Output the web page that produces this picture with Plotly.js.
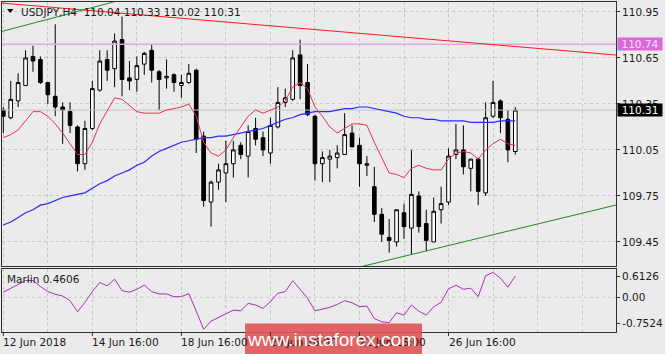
<!DOCTYPE html>
<html><head><meta charset="utf-8">
<script src="https://cdn.plot.ly/plotly-3.0.1.min.js"></script>
<style>html,body{margin:0;padding:0;background:#ebebeb;}#chart{width:665px;height:354px;}</style>
</head><body><div id="chart"></div>
<script>
const symbol = 'USDJPY,H4';
const openP  = [110.31,110.26,110.37,110.47,110.66,110.64,110.49,110.40,110.33,110.30,110.20,109.96,110.19,110.44,110.64,110.58,110.77,110.52,110.51,110.61,110.70,110.56,110.52,110.54,110.47,110.49,110.57,110.14,109.71,109.84,109.90,109.96,110.08,110.01,110.19,110.13,110.03,110.20,110.36,110.38,110.67,110.49,110.27,109.96,109.99,110.00,110.02,110.16,110.08,109.95,109.81,109.63,109.48,109.45,109.64,109.54,109.75,109.57,109.45,109.66,109.71,110.02,110.05,109.93,109.99,109.77,110.27,110.37,110.25,110.04];
const highP  = [110.33,110.50,110.55,110.70,110.73,110.66,110.49,110.87,110.36,110.36,110.21,110.24,110.50,110.70,110.70,110.81,110.92,110.63,110.66,110.69,110.74,110.57,110.64,110.55,110.54,110.61,110.58,110.17,109.85,109.96,110.11,110.11,110.10,110.21,110.26,110.17,110.26,110.46,110.45,110.70,110.77,110.61,110.28,110.04,110.05,110.08,110.29,110.21,110.13,110.01,109.94,109.67,109.60,109.66,109.70,110.05,109.78,109.66,109.74,109.81,110.06,110.22,110.21,109.99,110.00,110.36,110.50,110.38,110.31,110.33];
const lowP   = [110.16,110.25,110.33,110.47,110.56,110.48,110.35,110.27,110.09,110.16,109.91,109.92,110.18,110.43,110.50,110.46,110.40,110.44,110.43,110.54,110.49,110.31,110.45,110.43,110.39,110.48,110.03,109.68,109.55,109.79,109.71,109.87,109.99,109.87,110.08,110.01,109.96,110.19,110.33,110.37,110.38,110.27,109.85,109.84,109.84,109.93,110.02,110.07,109.81,109.88,109.58,109.45,109.38,109.42,109.47,109.37,109.51,109.39,109.45,109.57,109.69,109.99,109.89,109.78,109.69,109.75,110.26,110.16,109.97,110.02];
const closeP = [110.27,110.38,110.49,110.65,110.63,110.49,110.41,110.33,110.31,110.21,109.96,110.19,110.45,110.63,110.57,110.76,110.51,110.50,110.60,110.68,110.57,110.51,110.53,110.49,110.49,110.55,110.12,109.72,109.84,109.92,109.96,110.05,110.02,110.17,110.12,110.05,110.21,110.36,110.39,110.65,110.47,110.28,109.96,110.00,110.01,110.03,110.15,110.07,109.96,109.96,109.63,109.50,109.46,109.66,109.55,109.76,109.55,109.46,109.65,109.70,110.01,110.05,109.94,109.99,109.78,110.26,110.36,110.26,110.05,110.31];
const maFast = [110.13,110.15,110.18,110.24,110.30,110.30,110.27,110.22,110.16,110.09,110.02,110.02,110.10,110.22,110.31,110.39,110.38,110.34,110.30,110.29,110.29,110.29,110.31,110.32,110.33,110.35,110.27,110.10,110.03,110.01,110.05,110.13,110.20,110.27,110.31,110.29,110.31,110.33,110.37,110.46,110.49,110.45,110.33,110.27,110.20,110.16,110.19,110.22,110.22,110.21,110.10,110.00,109.90,109.89,109.87,109.93,109.95,109.93,109.92,109.92,109.99,110.03,110.04,110.03,109.99,110.05,110.09,110.12,110.09,110.08];
const maSlow = [109.56,109.58,109.61,109.64,109.66,109.69,109.70,109.72,109.74,109.75,109.76,109.77,109.80,109.83,109.85,109.88,109.90,109.92,109.95,109.97,110.01,110.04,110.06,110.08,110.10,110.11,110.12,110.13,110.13,110.14,110.14,110.15,110.16,110.17,110.18,110.19,110.21,110.23,110.25,110.26,110.28,110.29,110.30,110.30,110.30,110.31,110.32,110.32,110.33,110.33,110.32,110.31,110.30,110.29,110.27,110.26,110.26,110.25,110.25,110.24,110.24,110.24,110.24,110.23,110.23,110.23,110.23,110.24,110.24,110.24];
const marlin = [0.109,0.189,0.269,0.364,0.364,0.233,0.123,0.065,0.028,-0.074,-0.314,-0.110,0.123,0.320,0.247,0.393,0.145,0.109,0.174,0.262,0.123,0.072,0.072,0.014,0.014,0.080,-0.300,-0.693,-0.518,-0.438,-0.351,-0.278,-0.292,-0.132,-0.168,-0.241,-0.095,0.087,0.123,0.357,0.174,-0.023,-0.292,-0.249,-0.219,-0.154,-0.074,-0.117,-0.205,-0.190,-0.460,-0.533,-0.548,-0.336,-0.387,-0.168,-0.300,-0.387,-0.205,-0.110,0.182,0.262,0.174,0.196,0.014,0.466,0.539,0.415,0.218,0.4606];
const marlinMax = 0.6126, marlinMin = -0.7524;
const priceTicks = [109.45, 109.75, 110.05, 110.35, 110.65, 110.95];
const xTickIdx = [0, 12, 24, 36, 48, 60];
const xTickText = ['12 Jun 2018','14 Jun 16:00','18 Jun 16:00','20 Jun 16:00','22 Jun 16:00','26 Jun 16:00'];
const levelLine = 110.74;
const trendRedX = [-0.45, 82.6],  trendRedY = [111.009, 110.669];
const trendGrnTopX = [-0.2, 16],  trendGrnTopY = [110.823, 111.030];
const trendGrnBotX = [48.5, 82.6], trendGrnBotY = [109.292, 109.691];

const W = 665, H = 354;
const px = v => v / W, py = v => 1 - v / H;
const idx = openP.map((_, i) => i);
const xr = [-0.175, 82.57];
const last = closeP.length - 1;
const gridC = '#c6c6c6', lineC = '#303030';
const fnt = 'DejaVu Sans';

const traces = [
  {type:'scatter', mode:'lines', x:xr, y:[levelLine, levelLine], line:{color:'#e3a6e3', width:1.5}, hoverinfo:'skip'},
  {type:'scatter', mode:'lines', x:xr, y:[closeP[last], closeP[last]], line:{color:'#c4c4c4', width:1}, hoverinfo:'skip'},
  {type:'candlestick', x:idx, open:openP, high:highP, low:lowP, close:closeP,
   increasing:{line:{color:'#000', width:1}, fillcolor:'#ffffff'},
   decreasing:{line:{color:'#000', width:1}, fillcolor:'#000000'},
   whiskerwidth:0, hoverinfo:'skip'},
  {type:'scatter', mode:'lines', x:idx, y:maSlow, line:{color:'#2a2aff', width:1.2}, hoverinfo:'skip'},
  {type:'scatter', mode:'lines', x:idx, y:maFast, line:{color:'#e8324e', width:1}, hoverinfo:'skip'},
  {type:'scatter', mode:'lines', x:trendRedX, y:trendRedY, line:{color:'#ff1a1a', width:1}, hoverinfo:'skip'},
  {type:'scatter', mode:'lines', x:trendGrnTopX, y:trendGrnTopY, line:{color:'#238a23', width:1}, hoverinfo:'skip'},
  {type:'scatter', mode:'lines', x:trendGrnBotX, y:trendGrnBotY, line:{color:'#238a23', width:1}, hoverinfo:'skip'},
  {type:'scatter', mode:'lines', x:idx, y:marlin, xaxis:'x2', yaxis:'y2', line:{color:'#a832b0', width:1}, hoverinfo:'skip'}
];

const span = marlinMax - marlinMin;
const shapes = [
  {type:'line', xref:'x2 domain', yref:'y2', x0:0, x1:1, y0:0, y1:0, line:{color:gridC, width:1, dash:'dot'}, layer:'below'},
  {type:'path', xref:'paper', yref:'paper', path:`M ${px(7)} ${py(9)} L ${px(13.5)} ${py(9)} L ${px(10.25)} ${py(13)} Z`, fillcolor:'#000', line:{width:0}},
  {type:'rect', xref:'paper', yref:'paper', x0:px(245), x1:px(422), y0:py(356), y1:py(323.5), fillcolor:'rgba(224,84,84,0.9)', line:{width:0}, layer:'above'}
];
xTickIdx.forEach(k => shapes.push({type:'line', xref:'x2', yref:'paper', x0:k, x1:k, y0:py(332), y1:py(336), line:{color:lineC, width:1}}));

const annotations = [
  {xref:'paper', yref:'paper', x:px(19), y:py(12), xanchor:'left', yanchor:'middle', showarrow:false,
   text:`${symbol}\u00a0 ${openP[last].toFixed(2)} ${highP[last].toFixed(2)} ${lowP[last].toFixed(2)} ${closeP[last].toFixed(2)}`,
   font:{family:fnt, size:10.5, color:'#1a1a1a'}},
  {xref:'paper', yref:'paper', x:px(5), y:py(279), xanchor:'left', yanchor:'middle', showarrow:false,
   text:`Marlin ${marlin[last].toFixed(4)}`, font:{family:fnt, size:10.5, color:'#1a1a1a'}},
  {xref:'paper', yref:'y', x:px(617), y:levelLine, xanchor:'left', yanchor:'middle', showarrow:false,
   text:levelLine.toFixed(2), bgcolor:'#dc68dc', width:44, height:12, borderpad:0, font:{family:fnt, size:10.5, color:'#f6e0f6'}},
  {xref:'paper', yref:'y', x:px(617), y:closeP[last], xanchor:'left', yanchor:'middle', showarrow:false,
   text:closeP[last].toFixed(2), bgcolor:'#000000', width:44, height:12, borderpad:0, font:{family:fnt, size:10.5, color:'#ffffff'}},
  {xref:'paper', yref:'paper', x:px(332), y:py(339), xanchor:'center', yanchor:'middle', showarrow:false,
   text:'www.instaforex.com', font:{family:'Liberation Sans', size:19, color:'#ffffff'}}
];
xTickIdx.forEach((k, j) => annotations.splice(annotations.length - 1, 0, {
  xref:'x2', yref:'paper', x:k, y:py(342), xanchor:'left', yanchor:'middle', showarrow:false, xshift:-2,
  text:xTickText[j], font:{family:fnt, size:10.5, color:'#1a1a1a'}}));

const layout = {
  width:W, height:H, margin:{l:0, r:0, t:0, b:0}, showlegend:false,
  paper_bgcolor:'#ebebeb', plot_bgcolor:'#ebebeb',
  font:{family:fnt, size:10.5, color:'#1a1a1a'},
  xaxis:{domain:[px(2), px(616)], range:xr, anchor:'y', showgrid:true, gridcolor:gridC, griddash:'dot', tick0:0, dtick:6,
         showticklabels:false, ticks:'', showline:true, mirror:true, linecolor:lineC, linewidth:1, zeroline:false,
         rangeslider:{visible:false}, fixedrange:true},
  yaxis:{domain:[py(266), py(2)], range:[109.293, 111.015], anchor:'x', side:'right', tickvals:priceTicks,
         ticktext:priceTicks.map(v => v.toFixed(2)), ticks:'outside', ticklen:3, tickcolor:lineC,
         showgrid:true, gridcolor:gridC, griddash:'dot', showline:true, mirror:true, linecolor:lineC, zeroline:false, fixedrange:true},
  xaxis2:{domain:[px(2), px(616)], range:xr, anchor:'y2', showgrid:true, gridcolor:gridC, griddash:'dot', tick0:0, dtick:6,
          showticklabels:false, ticks:'', showline:true, mirror:true, linecolor:lineC, zeroline:false, fixedrange:true},
  yaxis2:{domain:[py(332), py(269)], range:[marlinMin, marlinMax], anchor:'x2', side:'right',
          tickvals:[marlinMax - 0.123*span, 0, marlinMin + 0.135*span], ticktext:[marlinMax.toFixed(4), '0.00', marlinMin.toFixed(4)],
          ticks:'outside', ticklen:3, tickcolor:lineC, showgrid:false, showline:true, mirror:true, linecolor:lineC, zeroline:false, fixedrange:true},
  shapes:shapes, annotations:annotations
};
Plotly.newPlot('chart', traces, layout, {staticPlot:true, displayModeBar:false});
</script></body></html>
